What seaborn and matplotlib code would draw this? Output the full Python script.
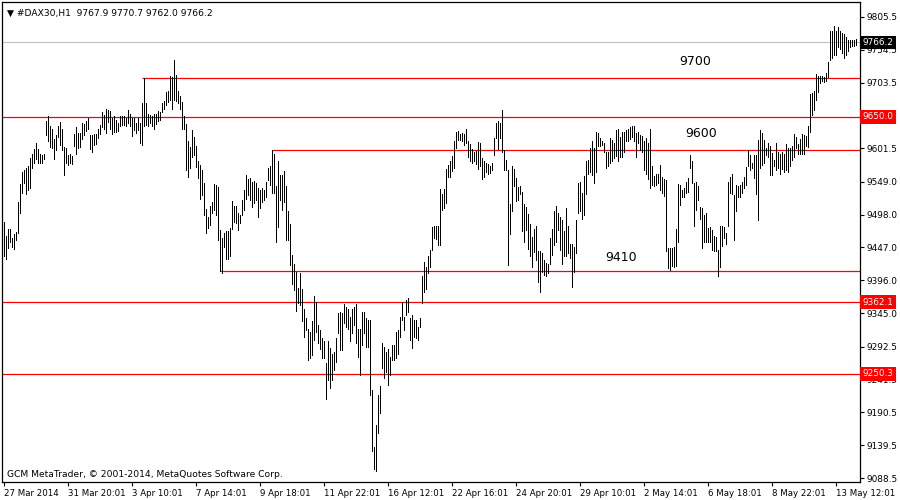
import pandas as pd
import seaborn as sns
import matplotlib.pyplot as plt
import matplotlib.transforms as mtransforms

# bar highs / lows (H1 bars, 27 Mar 2014 16:01 .. 13 May 2014 21:01)
highs = [
    9487, 9465, 9476, 9476, 9462, 9468, 9471, 9517, 9546, 9564, 9568, 9571, 9573, 9586, 9592, 9600,
    9609, 9600, 9592, 9591, 9593, 9643, 9651, 9636, 9631, 9615, 9622, 9636, 9642, 9632, 9604, 9601,
    9591, 9592, 9590, 9623, 9634, 9625, 9625, 9641, 9639, 9644, 9648, 9622, 9622, 9623, 9623, 9632,
    9637, 9657, 9653, 9663, 9661, 9659, 9648, 9651, 9645, 9641, 9651, 9651, 9651, 9649, 9661, 9654,
    9649, 9648, 9640, 9649, 9641, 9671, 9710, 9671, 9655, 9653, 9652, 9655, 9655, 9660, 9658, 9672,
    9675, 9689, 9690, 9713, 9712, 9739, 9716, 9690, 9683, 9674, 9651, 9639, 9612, 9603, 9629, 9619,
    9605, 9582, 9575, 9567, 9548, 9507, 9495, 9511, 9518, 9546, 9544, 9541,
    9474, 9461, 9470, 9472, 9472, 9477, 9519, 9512, 9511, 9500, 9498, 9521, 9536, 9560, 9553, 9555,
    9549, 9550, 9547, 9539, 9536, 9539, 9536, 9549, 9570, 9573, 9599, 9593, 9542, 9581, 9560, 9560,
    9566, 9543, 9503, 9484, 9435, 9422, 9409, 9384, 9407, 9382, 9351, 9337, 9321, 9316, 9332, 9371,
    9363, 9326, 9319, 9306, 9301, 9267, 9301, 9290, 9282, 9285, 9306, 9345, 9347, 9345, 9359, 9355,
    9351, 9339, 9352, 9355, 9359, 9321, 9320, 9346, 9347, 9337, 9334, 9334, 9226, 9137, 9171, 9218,
    9231, 9299, 9293, 9285, 9289, 9277, 9295, 9295, 9316, 9318, 9339, 9363, 9339, 9366, 9368, 9337,
    9342, 9334, 9335, 9324, 9337, 9403, 9425, 9417, 9433, 9443, 9479, 9480,
    9480, 9480, 9538, 9530, 9538, 9569, 9575, 9582, 9589, 9612, 9626, 9628, 9624, 9625, 9623, 9631,
    9613, 9608, 9600, 9595, 9597, 9611, 9610, 9586, 9582, 9579, 9577, 9574, 9579, 9617, 9640, 9643,
    9641, 9661, 9599, 9583, 9568, 9515, 9573, 9569, 9555, 9541, 9543, 9534, 9515, 9510, 9499, 9484,
    9464, 9475, 9480, 9441, 9442, 9439, 9428, 9423, 9421, 9461, 9475, 9503, 9512, 9501, 9495, 9489,
    9473, 9508, 9480, 9452, 9452, 9448, 9489, 9547, 9549, 9532, 9558, 9582, 9583, 9601, 9612, 9601,
    9626, 9625, 9618, 9613, 9610, 9596, 9595, 9617, 9614, 9610, 9630, 9632, 9619, 9626, 9627, 9629,
    9631, 9635, 9636, 9636, 9625, 9626, 9622, 9620, 9612, 9618, 9609,
    9632, 9574, 9558, 9562, 9561, 9575, 9557, 9553, 9552, 9446, 9446, 9446, 9447, 9475, 9546, 9544,
    9536, 9539, 9549, 9555, 9591, 9582, 9548, 9549, 9543, 9510, 9508, 9498, 9500, 9477, 9479, 9474,
    9465, 9463, 9443, 9481, 9480, 9479, 9469, 9549, 9556, 9561, 9529, 9544, 9542, 9544, 9549, 9556,
    9572, 9598, 9591, 9578, 9591, 9591, 9614, 9629, 9625, 9614, 9601, 9610, 9605, 9594, 9583, 9609,
    9596, 9593, 9596, 9592, 9608, 9601, 9601, 9605, 9623, 9619, 9608, 9615, 9624, 9622, 9620, 9636,
    9686, 9688, 9691, 9717, 9714, 9713, 9713, 9712, 9718, 9736, 9784, 9783, 9791, 9784, 9790, 9784,
    9780, 9779, 9775, 9770, 9769, 9770, 9770, 9770.7,
]
lows = [
    9434, 9429, 9446, 9456, 9447, 9444, 9459, 9470, 9500, 9532, 9547, 9530, 9536, 9540, 9570, 9578,
    9584, 9579, 9579, 9579, 9584, 9622, 9613, 9604, 9601, 9584, 9599, 9619, 9606, 9598, 9559, 9578,
    9575, 9578, 9577, 9605, 9592, 9602, 9603, 9615, 9622, 9628, 9632, 9600, 9596, 9607, 9608, 9617,
    9623, 9635, 9631, 9625, 9642, 9632, 9623, 9627, 9626, 9628, 9636, 9637, 9637, 9636, 9640, 9636,
    9621, 9629, 9625, 9629, 9609, 9606, 9636, 9637, 9636, 9641, 9636, 9631, 9639, 9644, 9646, 9658,
    9662, 9669, 9674, 9676, 9662, 9676, 9675, 9671, 9662, 9632, 9632, 9567, 9557, 9571, 9588, 9591,
    9572, 9555, 9523, 9529, 9497, 9469, 9477, 9482, 9500, 9505, 9498, 9459,
    9410, 9407, 9448, 9429, 9429, 9433, 9475, 9487, 9485, 9474, 9485, 9498, 9505, 9523, 9529, 9521,
    9510, 9516, 9521, 9495, 9508, 9518, 9521, 9526, 9552, 9544, 9531, 9531, 9455, 9479, 9521, 9505,
    9518, 9459, 9459, 9420, 9391, 9381, 9349, 9360, 9358, 9333, 9308, 9319, 9272, 9275, 9280, 9303,
    9316, 9298, 9289, 9275, 9275, 9211, 9241, 9228, 9241, 9256, 9269, 9314, 9287, 9288, 9329, 9324,
    9321, 9301, 9314, 9326, 9298, 9276, 9249, 9295, 9314, 9293, 9293, 9218, 9131, 9102, 9100, 9158,
    9190, 9259, 9244, 9254, 9233, 9249, 9272, 9272, 9275, 9282, 9308, 9334, 9319, 9342, 9346, 9303,
    9290, 9308, 9307, 9303, 9324, 9360, 9378, 9382, 9407, 9417, 9443, 9461,
    9460, 9451, 9451, 9505, 9508, 9516, 9556, 9556, 9566, 9570, 9601, 9614, 9614, 9612, 9606, 9609,
    9588, 9581, 9578, 9581, 9577, 9569, 9574, 9553, 9556, 9565, 9561, 9563, 9568, 9591, 9617, 9600,
    9618, 9596, 9567, 9568, 9420, 9468, 9503, 9542, 9520, 9521, 9530, 9472, 9456, 9474, 9444, 9434,
    9416, 9440, 9428, 9394, 9378, 9409, 9404, 9403, 9407, 9422, 9435, 9451, 9456, 9474, 9443, 9422,
    9434, 9433, 9438, 9430, 9385, 9409, 9438, 9500, 9504, 9492, 9498, 9530, 9561, 9565, 9560, 9548,
    9565, 9605, 9605, 9606, 9596, 9570, 9574, 9578, 9582, 9586, 9589, 9581, 9588, 9588, 9596, 9612,
    9612, 9615, 9619, 9612, 9588, 9609, 9599, 9596, 9568, 9562, 9553,
    9539, 9544, 9543, 9544, 9548, 9537, 9531, 9527, 9441, 9415, 9412, 9418, 9417, 9418, 9456, 9513,
    9526, 9526, 9532, 9534, 9570, 9548, 9480, 9506, 9521, 9492, 9446, 9456, 9456, 9455, 9456, 9443,
    9441, 9442, 9403, 9417, 9449, 9461, 9452, 9480, 9531, 9530, 9459, 9503, 9526, 9526, 9531, 9539,
    9544, 9574, 9568, 9570, 9555, 9530, 9490, 9570, 9575, 9579, 9591, 9588, 9560, 9560, 9573, 9568,
    9570, 9562, 9569, 9565, 9568, 9565, 9573, 9583, 9588, 9601, 9592, 9593, 9592, 9593, 9605, 9604,
    9626, 9653, 9661, 9676, 9689, 9703, 9706, 9705, 9706, 9712, 9738, 9741, 9746, 9746, 9759, 9755,
    9749, 9741, 9746, 9752, 9759, 9760, 9760, 9762.0,
]

tick_bars = [0, 32, 64, 96, 128, 160, 192, 224, 256, 288, 320, 352, 384, 416]
tick_labels = ["27 Mar 2014", "31 Mar 20:01", "3 Apr 10:01", "7 Apr 14:01", "9 Apr 18:01",
               "11 Apr 22:01", "16 Apr 12:01", "22 Apr 16:01", "24 Apr 20:01", "29 Apr 10:01",
               "2 May 14:01", "6 May 18:01", "8 May 22:01", "13 May 12:01"]
price_ticks = [9805.5, 9754.5, 9703.5, 9652.5, 9601.5, 9549.0, 9498.0, 9447.0,
               9396.0, 9345.0, 9292.5, 9241.5, 9190.5, 9139.5, 9088.5]

# support / resistance lines: (level, first bar)
levels = [9710, 9650.0, 9599, 9410, 9362.1, 9250.3]
level_start = [69, -1, 134, 108, -1, -1]
marked = [9650.0, 9362.1, 9250.3]
last_price = 9766.2
notes = ["9700", "9600", "9410"]
note_x = [346, 349, 309]
note_y = [9737, 9625, 9431]

# long table: each bar is a low->high segment
n = len(highs)
df = pd.DataFrame({
    "bar": list(range(n)) * 2,
    "price": lows + highs,
})

sns.set_theme(style="ticks")
plt.rcParams["font.family"] = ["DejaVu Sans"]

fig = plt.figure(figsize=(9, 5), dpi=100)
ax = fig.add_axes([2 / 900, 18 / 500, 858 / 900, 480 / 500])
xmin, xmax = -0.75, 428.25
ax.set_xlim(xmin, xmax)
ax.set_ylim(9082.3, 9828.8)

# price levels
ax.axhline(last_price, color="#c0c0c0", lw=0.8, zorder=1)
for lv, st in zip(levels, level_start):
    ax.hlines(lv, st if st >= 0 else xmin, xmax, color="#ff0000", lw=0.9, zorder=1)

sns.lineplot(data=df, x="bar", y="price", units="bar", estimator=None,
             color="black", lw=0.5, antialiased=False, legend=False, ax=ax, zorder=3)

for s in ax.spines.values():
    s.set_color("black")
    s.set_linewidth(0.9)

ax.set_xticks(tick_bars)
ax.set_xticklabels(tick_labels, ha="left", fontsize=6.2)
ax.yaxis.tick_right()
ax.set_yticks(price_ticks)
ax.set_yticklabels(["" if p == 9652.5 else f"{p:.1f}" for p in price_ticks], fontsize=6.4)
ax.tick_params(axis="both", direction="out", length=3, width=0.8, color="black",
               pad=2, labelcolor="black")
ax.set_xlabel("")
ax.set_ylabel("")

# price boxes on the right scale
tr = mtransforms.blended_transform_factory(ax.transAxes, ax.transData)
ax.text(1.003, last_price, f"{last_price:.1f}", transform=tr, color="white", fontsize=6.4,
        va="center", ha="left", clip_on=False, zorder=10,
        bbox=dict(facecolor="black", edgecolor="none", pad=1.6))
for m in marked:
    ax.text(1.003, m, f"{m:.1f}", transform=tr, color="white", fontsize=6.4,
            va="center", ha="left", clip_on=False, zorder=10,
            bbox=dict(facecolor="#ff0000", edgecolor="none", pad=1.6))

for t, x, y in zip(notes, note_x, note_y):
    ax.text(x, y, t, fontsize=9, ha="center", va="center", color="black", zorder=5)

ax.text(0.006, 0.985, "\u25bc #DAX30,H1  9767.9 9770.7 9762.0 9766.2", transform=ax.transAxes,
        fontsize=6.6, ha="left", va="top", color="black")
ax.text(0.006, 0.015, "GCM MetaTrader, \u00a9 2001-2014, MetaQuotes Software Corp.",
        transform=ax.transAxes, fontsize=6.6, ha="left", va="center", color="black")

fig.savefig("out.png", dpi=100, facecolor="white")
